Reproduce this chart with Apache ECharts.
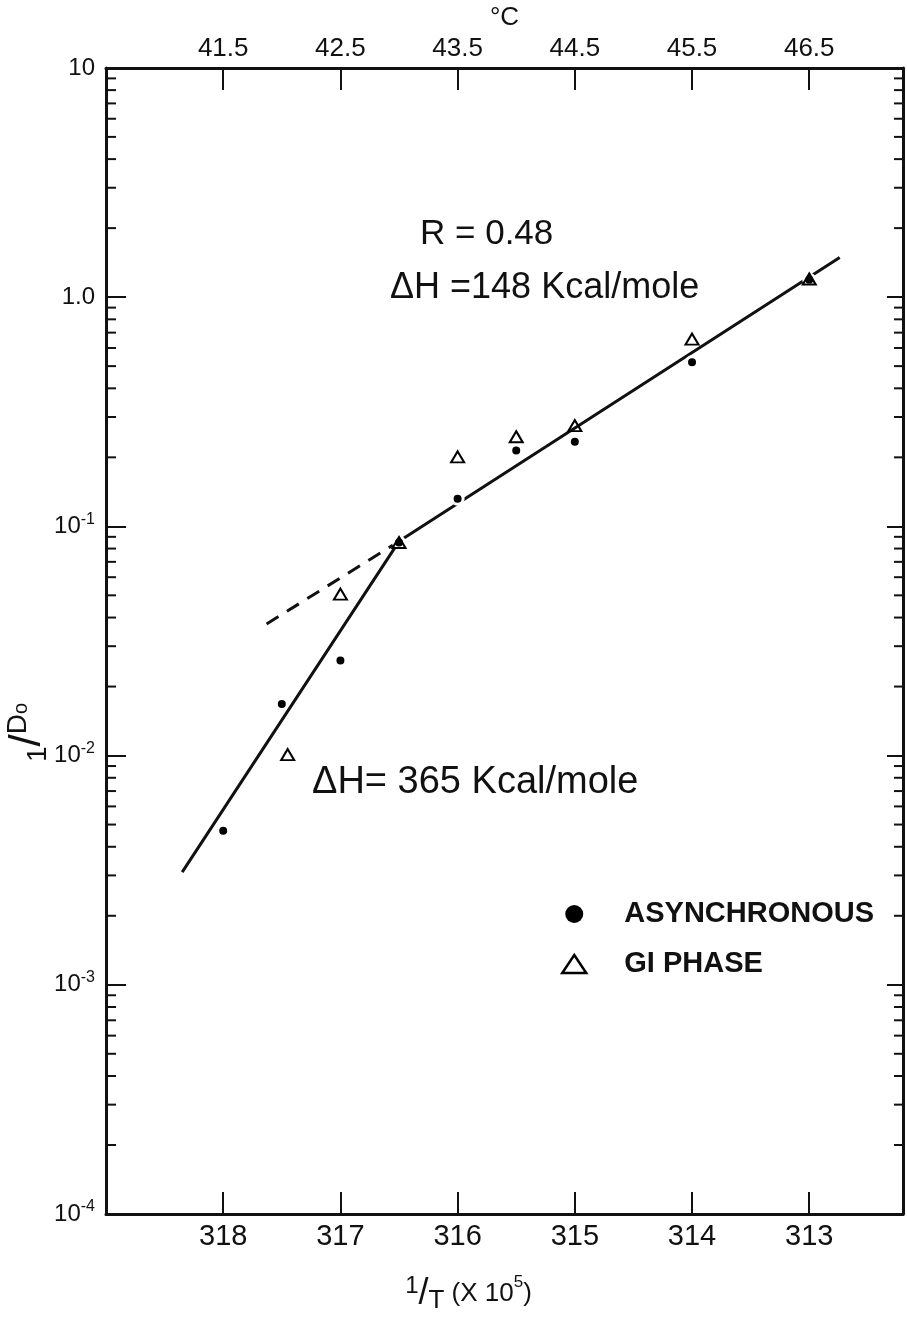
<!DOCTYPE html>
<html>
<head>
<meta charset="utf-8">
<script src="https://cdn.jsdelivr.net/npm/echarts@6/dist/echarts.min.js"></script>
<style>
html,body{margin:0;padding:0;background:#fff;}
#c{width:907px;height:1319px;}
</style>
</head>
<body>
<div id="c"></div>
<script>
// ---- data ----
const xTicks = [318, 317, 316, 315, 314, 313];
const celsiusLabels = ['41.5', '42.5', '43.5', '44.5', '45.5', '46.5'];
const yExponents = [-4, -3, -2, -1, 0, 1];
const yTickLabels = ['10{s|-4}', '10{s|-3}', '10{s|-2}', '10{s|-1}', '1.0', '10'];
const minorMantissas = [2, 3, 4, 5, 6, 7, 8, 9];
const minorDecades = [1e-4, 1e-3, 1e-2, 1e-1, 1];

const asyncX = [318, 317.5, 317, 316.5, 316, 315.5, 315, 314, 313];
const asyncY = [0.0047, 0.0168, 0.026, 0.085, 0.132, 0.214, 0.234, 0.52, 1.19];
const g1X = [317.45, 317, 316.5, 316, 315.5, 315, 314, 313];
const g1Y = [0.0101, 0.0506, 0.085, 0.201, 0.246, 0.275, 0.656, 1.2];

const fitSolidX = [318.35, 316.5, 312.74];
const fitSolidY = [0.0031, 0.086, 1.49];
const fitDashX = [317.63, 316.5];
const fitDashY = [0.0375, 0.086];

// ---- chart ----
const FONT = '"Liberation Sans", Arial, sans-serif';
const INK = '#111';
const zip = (xs, ys) => xs.map((x, i) => [x, ys[i]]);
const minorTicks = [];
minorDecades.forEach(d => minorMantissas.forEach(m => minorTicks.push([315, m * d])));

const chart = echarts.init(document.getElementById('c'), null, {renderer: 'canvas'});

const X_MIN = 312.2, X_MAX = 319.0;

const option = {
  backgroundColor: '#fff',
  animation: false,
  grid: {left: 106, right: 4, top: 66, bottom: 100, containLabel: false},
  xAxis: [
    {
      type: 'value', position: 'bottom', min: X_MIN, max: X_MAX, inverse: true,
      axisLine: {show: true, lineStyle: {color: INK, width: 3}},
      axisTick: {show: true, inside: true, length: 22, customValues: xTicks, lineStyle: {color: INK, width: 2}},
      axisLabel: {show: true, customValues: xTicks, fontFamily: FONT, fontSize: 29, color: INK, margin: 8,
        formatter: v => String(Math.round(v))},
      splitLine: {show: false},
      name: '{n|1}{sl|/}{d|T}{sp| }{t|(X 10}{s|5}{t|)}',
      nameLocation: 'middle', nameGap: 60,
      nameTextStyle: {
        fontFamily: FONT, color: INK, padding: [0, 72, 0, 0],
        rich: {
          n: {fontFamily: FONT, fontSize: 24, color: INK, verticalAlign: 'top', lineHeight: 40},
          sl: {fontFamily: FONT, fontSize: 36, color: INK, lineHeight: 40},
          d: {fontFamily: FONT, fontSize: 26, color: INK, verticalAlign: 'bottom', lineHeight: 40},
          sp: {fontFamily: FONT, fontSize: 26, lineHeight: 40},
          t: {fontFamily: FONT, fontSize: 26, color: INK, lineHeight: 40},
          s: {fontFamily: FONT, fontSize: 17, color: INK, verticalAlign: 'top', lineHeight: 40}
        }
      }
    },
    {
      type: 'value', position: 'top', min: X_MIN, max: X_MAX, inverse: true,
      axisLine: {show: true, lineStyle: {color: INK, width: 3}},
      axisTick: {show: true, inside: true, length: 22, customValues: xTicks, lineStyle: {color: INK, width: 2}},
      axisLabel: {show: true, customValues: xTicks, fontFamily: FONT, fontSize: 26, color: INK, margin: 6,
        formatter: v => celsiusLabels[xTicks.indexOf(Math.round(v))] || ''},
      splitLine: {show: false},
      name: '°C', nameLocation: 'middle', nameGap: 30,
      nameTextStyle: {fontFamily: FONT, fontSize: 26, color: INK}
    }
  ],
  yAxis: [
    {
      type: 'log', logBase: 10, min: 1e-4, max: 10, position: 'left',
      axisLine: {show: true, lineStyle: {color: INK, width: 3}},
      axisTick: {show: true, inside: true, length: 20, lineStyle: {color: INK, width: 2}},
      axisLabel: {
        show: true, fontFamily: FONT, fontSize: 24, color: INK, margin: 11,
        formatter: v => {
          const e = Math.round(Math.log10(v));
          const i = yExponents.indexOf(e);
          return i >= 0 ? yTickLabels[i] : '';
        },
        rich: {
          s: {fontFamily: FONT, fontSize: 16, color: INK, verticalAlign: 'top', lineHeight: 30}
        }
      },
      splitLine: {show: false}
    },
    {
      type: 'log', logBase: 10, min: 1e-4, max: 10, position: 'right',
      axisLine: {show: true, lineStyle: {color: INK, width: 3}},
      axisTick: {show: true, inside: true, length: 16, lineStyle: {color: INK, width: 2}},
      axisLabel: {show: false},
      splitLine: {show: false}
    }
  ],
  legend: {
    data: [
      {name: 'ASYNCHRONOUS', icon: 'circle', itemStyle: {color: '#000', borderWidth: 0}},
      {name: 'GI PHASE', icon: 'triangle', itemStyle: {color: 'rgba(255,255,255,0)', borderColor: '#000', borderWidth: 2.5}}
    ],
    orient: 'vertical', left: 556, top: 893, itemGap: 18,
    itemWidth: 24, itemHeight: 18,
    selectedMode: false,
    textStyle: {fontFamily: FONT, fontSize: 29, fontWeight: 'bold', color: INK, padding: [0, 0, 0, 33], lineHeight: 32}
  },
  graphic: [
    {type: 'text', left: 420, top: 217, style: {text: 'R = 0.48', font: '35px ' + FONT, fill: INK}},
    {type: 'text', left: 390, top: 270, style: {text: 'ΔH =148 Kcal/mole', font: '36px ' + FONT, fill: INK}},
    {type: 'text', left: 312, top: 764, style: {text: 'ΔH= 365 Kcal/mole', font: '38px ' + FONT, fill: INK}},
    {
      type: 'text', x: 4, y: 762, rotation: Math.PI / 2,
      style: {
        text: '{lo|1}{sl|/}{hi|D}{o|o}',
        rich: {
          lo: {fontFamily: FONT, fontSize: 28, fill: INK, verticalAlign: 'bottom', lineHeight: 48},
          sl: {fontFamily: FONT, fontSize: 44, fill: INK, lineHeight: 48},
          hi: {fontFamily: FONT, fontSize: 28, fill: INK, verticalAlign: 'top', lineHeight: 48},
          o: {fontFamily: FONT, fontSize: 20, fill: INK, verticalAlign: 'top', lineHeight: 48, padding: [7, 0, 0, 0]}
        }
      }
    }
  ],
  series: [
    {
      type: 'custom', name: 'minorTicks', silent: true, clip: false, z: 1,
      xAxisIndex: 0, yAxisIndex: 0,
      data: minorTicks,
      renderItem: (params, api) => {
        const y = api.coord([api.value(0), api.value(1)])[1];
        const cs = params.coordSys;
        const st = {stroke: INK, lineWidth: 2};
        return {
          type: 'group',
          children: [
            {type: 'line', shape: {x1: cs.x, y1: y, x2: cs.x + 10, y2: y}, style: st},
            {type: 'line', shape: {x1: cs.x + cs.width, y1: y, x2: cs.x + cs.width - 9, y2: y}, style: st}
          ]
        };
      }
    },
    {
      type: 'line', name: 'fit', data: zip(fitSolidX, fitSolidY), symbol: 'none', z: 2,
      lineStyle: {color: INK, width: 3}, silent: true
    },
    {
      type: 'line', name: 'fitDash', data: zip(fitDashX, fitDashY), symbol: 'none', z: 2,
      lineStyle: {color: INK, width: 3, type: [14, 10]}, silent: true
    },
    {
      type: 'scatter', name: 'ASYNCHRONOUS', data: zip(asyncX, asyncY), z: 3,
      symbol: 'circle', symbolSize: 11,
      itemStyle: {color: '#000', borderColor: '#fff', borderWidth: 3, opacity: 1}
    },
    {
      type: 'scatter', name: 'GI PHASE', data: zip(g1X, g1Y), z: 4,
      symbol: 'triangle', symbolSize: [13, 11],
      itemStyle: {color: 'rgba(255,255,255,0)', borderColor: '#000', borderWidth: 2, opacity: 1}
    }
  ]
};
chart.setOption(option);
</script>
</body>
</html>
